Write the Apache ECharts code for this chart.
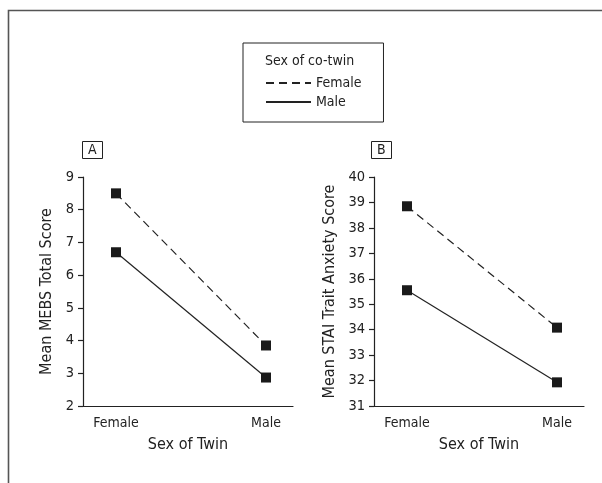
<!DOCTYPE html>
<html>
<head>
<meta charset="utf-8">
<script src="https://cdn.jsdelivr.net/npm/echarts@6/dist/echarts.min.js"></script>
<style>
html,body{margin:0;padding:0;background:#fff;}
#chart{width:602px;height:483px;}
</style>
</head>
<body>
<div id="chart"></div>
<script>
var categories = ['Female', 'Male'];
var legendTitle = 'Sex of co-twin';
var seriesNames = ['Female', 'Male'];
// Panel A: Mean MEBS Total Score
var mebsFemaleCotwin = [8.5, 3.85];
var mebsMaleCotwin = [6.7, 2.87];
// Panel B: Mean STAI Trait Anxiety Score
var staiFemaleCotwin = [38.85, 34.08];
var staiMaleCotwin = [35.55, 31.93];
var panelLabels = ['A', 'B'];
var yNames = ['Mean MEBS Total Score', 'Mean STAI Trait Anxiety Score'];
var xName = 'Sex of Twin';

var FONT = '"DejaVu Sans Condensed", "Liberation Sans Narrow", sans-serif';
var TXT = '#222';

function pts(vals) { return vals.map(function (v, i) { return [i, v]; }); }

function xAxisCfg(idx) {
  return {
    type: 'value', gridIndex: idx, min: -0.22, max: 1.18,
    name: xName, nameLocation: 'middle', nameGap: 31,
    nameTextStyle: { fontFamily: FONT, fontSize: 16, color: TXT },
    axisLine: { onZero: false, lineStyle: { color: '#222', width: 1.2 } },
    axisTick: { show: false },
    splitLine: { show: false },
    axisLabel: {
      customValues: [0, 1], margin: 10,
      fontFamily: FONT, fontSize: 14, color: TXT,
      formatter: function (v) { return categories[Math.round(v)]; }
    }
  };
}
function yAxisCfg(idx, min, max, gap) {
  return {
    type: 'value', gridIndex: idx, min: min, max: max, interval: 1,
    name: yNames[idx], nameLocation: 'middle', nameGap: gap,
    nameTextStyle: { fontFamily: FONT, fontSize: 16, color: TXT },
    axisLine: { show: true, onZero: false, lineStyle: { color: '#222', width: 1.2 } },
    axisTick: { show: true, length: 5, lineStyle: { color: '#222', width: 1.2 } },
    splitLine: { show: false },
    axisLabel: { margin: 9, fontFamily: FONT, fontSize: 14.5, color: TXT }
  };
}
function ser(name, idx, vals, dashed) {
  return {
    type: 'line', name: name, xAxisIndex: idx, yAxisIndex: idx,
    data: pts(vals), symbol: 'rect', symbolSize: 10,
    itemStyle: { color: '#1a1a1a' },
    lineStyle: { color: '#222', width: 1.2, type: dashed ? [8, 5] : 'solid' },
    silent: true, animation: false, z: 3
  };
}

var chart = echarts.init(document.getElementById('chart'), null, { renderer: 'canvas' });
chart.setOption({
  backgroundColor: '#fff',
  animation: false,
  title: [
    { text: legendTitle, left: 265, top: 54, textStyle: { fontFamily: FONT, fontSize: 14, fontWeight: 'normal', color: TXT }, padding: 0 },
    { text: panelLabels[0], left: 82, top: 141, borderColor: '#222', borderWidth: 1, padding: [2, 6, 2, 6], textStyle: { fontFamily: FONT, fontSize: 14, fontWeight: 'normal', color: TXT } },
    { text: panelLabels[1], left: 371, top: 141, borderColor: '#222', borderWidth: 1, padding: [2, 6, 2, 6], textStyle: { fontFamily: FONT, fontSize: 14, fontWeight: 'normal', color: TXT } }
  ],
  legend: {
    data: seriesNames,
    orient: 'vertical', left: 243, top: 43,
    padding: [33, 22, 13, 22],
    borderColor: '#222', borderWidth: 1,
    itemWidth: 45, itemHeight: 14, itemGap: 5,
    itemStyle: { opacity: 0 },
    textStyle: { fontFamily: FONT, fontSize: 14, color: TXT },
    selectedMode: false
  },
  graphic: [
    { type: 'polyline', shape: { points: [[8.5, 700], [8.5, 10.5], [700, 10.5]] }, style: { stroke: '#555', lineWidth: 1.6, fill: null }, silent: true }
  ],
  grid: [
    { left: 83, width: 210, top: 177, height: 229 },
    { left: 374, width: 210, top: 177, height: 229 }
  ],
  xAxis: [xAxisCfg(0), xAxisCfg(1)],
  yAxis: [yAxisCfg(0, 2, 9, 28), yAxisCfg(1, 31, 40, 36)],
  series: [
    ser(seriesNames[0], 0, mebsFemaleCotwin, true),
    ser(seriesNames[1], 0, mebsMaleCotwin, false),
    ser(seriesNames[0], 1, staiFemaleCotwin, true),
    ser(seriesNames[1], 1, staiMaleCotwin, false)
  ]
});
</script>
</body>
</html>
